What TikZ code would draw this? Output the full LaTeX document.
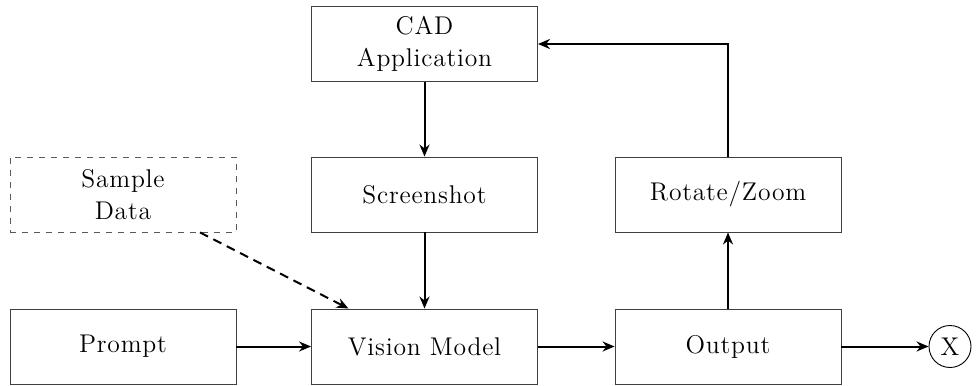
\documentclass[tikz,border=0pt]{standalone}
\usepackage{fontspec}
\setmainfont{Latin Modern Roman}[LetterSpace=3]
\usetikzlibrary{arrows.meta,calc}
\begin{document}
\begin{tikzpicture}[x=0.5pt,y=-0.5pt,
  blockbox/.style={draw=black!75,line width=0.45pt,rectangle,inner sep=0pt,
    minimum width=113pt,minimum height=37.5pt,align=center,
    font=\fontsize{12.8}{16}\selectfont},
  samplebox/.style={blockbox,dashed,draw=black!65},
  flow/.style={-{Stealth[length=6pt,width=5pt]},line width=1pt},
  hint/.style={flow,dashed,dash pattern=on 4.5pt off 3pt}]
\useasboundingbox (0,0) rectangle (978,385);
\node[blockbox] (prompt) at (123,346.5) {Prompt};
\node[blockbox] (vision) at (424.5,346.5) {Vision Model};
\node[blockbox] (output) at (728,346.5) {Output};
\node[blockbox] (shot) at (424.5,194.5) {Screenshot};
\node[samplebox] (sample) at (123,194.5) {Sample\\Data};
\node[blockbox] (rotate) at (728,194.5) {Rotate/Zoom};
\node[blockbox] (cad) at (424.5,44) {CAD\\Application};
\node[draw,circle,line width=0.45pt,minimum size=21pt,inner sep=0pt,
  font=\fontsize{12.8}{16}\selectfont] (x) at (950,346.5) {X};
\draw[flow] (prompt) -- (vision);
\draw[flow] (vision) -- (output);
\draw[flow] (output) -- (x);
\draw[flow] (shot) -- (vision);
\draw[flow] (cad) -- (shot);
\draw[flow] (output) -- (rotate);
\draw[flow] (rotate.north) |- (cad.east);
\draw[hint] ($(sample.south)+(77,0)$) -- ($(vision.north)+(-76,0)$);
\end{tikzpicture}
\end{document}
